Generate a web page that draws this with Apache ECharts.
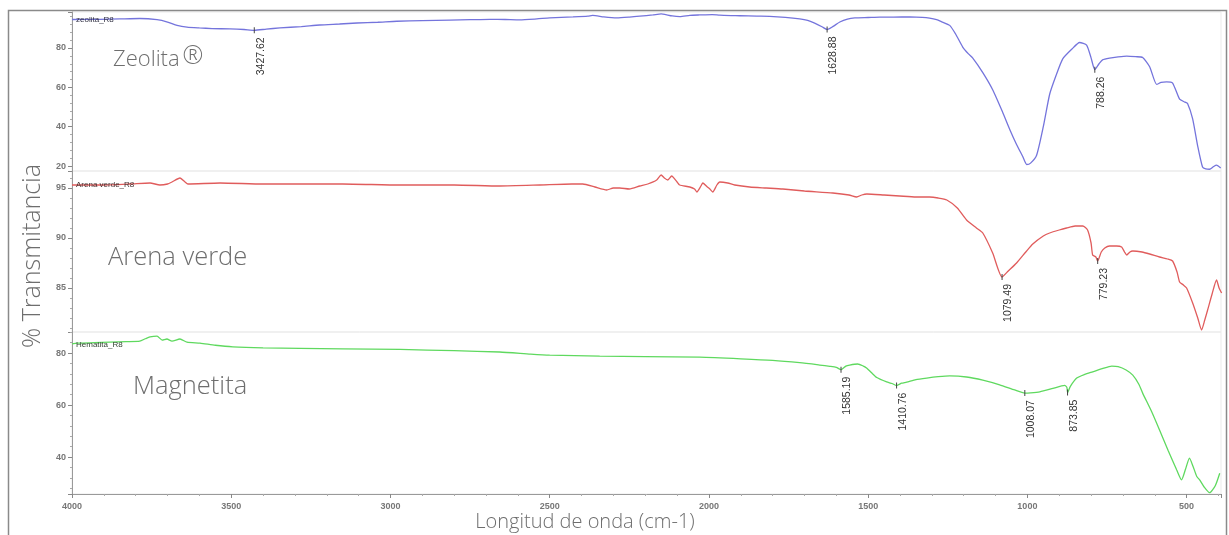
<!DOCTYPE html>
<html><head><meta charset="utf-8">
<script src="https://cdn.jsdelivr.net/npm/echarts@6/dist/echarts.min.js"></script>
<style>html,body{margin:0;padding:0;background:#fff}#c{width:1229px;height:535px}</style>
</head><body><div id="c"></div>
<script>
// ---- data (wavenumber cm-1, % transmittance) ----
const wnZeolita = [4000,3912,3850,3787,3733,3700,3670,3639,3600,3560,3504,3460,3427.62,3390,3347,3280,3222,3160,3105,3040,2980,2900,2813,2750,2688,2640,2594,2540,2500,2427,2380,2365,2330,2289,2250,2217,2176,2150,2139,2115,2091,2060,2029,1990,1966,1930,1903,1850,1809,1760,1715,1690,1668,1645,1628.88,1610,1589,1565,1542,1500,1464,1420,1369,1330,1307,1285,1269,1244,1225,1203,1185,1172,1140,1109,1078,1055,1034,1015,1002,990,971,950,930,910,889,860,836,814,800,788.26,775,764,742,715,688,660,638,616,594,580,563,544,522,505,497,481,465,450,440,428,415,406,393];
const tZeolita = [94.5,94.6,94.8,95.0,94.4,93.2,91.5,90.6,90.2,89.9,89.7,89.4,89.0,89.6,90.2,90.9,91.7,92.2,92.7,93.1,93.6,93.9,94.2,94.4,94.6,94.5,94.3,94.8,95.3,95.8,96.2,96.6,95.8,95.3,95.7,96.2,96.8,97.3,97.1,96.3,96.0,96.6,96.8,97.0,96.7,96.5,96.4,96.2,96.1,95.6,94.8,94.0,92.6,90.8,89.4,91.0,93.2,94.7,95.3,95.5,95.7,95.7,95.8,95.6,95.2,94.4,93.3,91.5,87.0,80.5,77.0,75.0,67.5,58.8,47.5,38.5,31.0,25.0,20.8,21.5,25.5,40.0,56.5,66.0,74.5,79.5,82.8,81.5,75.0,69.0,72.0,74.0,74.9,75.5,75.9,75.6,75.2,70.5,61.5,62.5,62.8,62.2,54.0,52.5,51.8,44.0,30.0,19.5,18.6,18.4,19.8,20.5,19.0];

const wnArena = [4000,3912,3818,3755,3724,3700,3686,3661,3645,3636,3535,3400,3284,3150,2970,2800,2657,2531,2430,2396,2358,2321,2300,2280,2250,2217,2192,2164,2150,2140,2129,2117,2100,2092,2060,2045,2038,2025,2019,2005,1997,1988,1975,1966,1941,1919,1872,1820,1768,1700,1611,1560,1536,1520,1504,1450,1401,1350,1307,1280,1253,1220,1191,1160,1140,1109,1079.49,1060,1034,1005,983,950,930,900,877,850,826,811,800,795,785,779.23,768,757,742,720,704,695,688,678,669,640,616,585,560,544,530,522,510,500,481,465,453,443,434,420,406,398,390];
const tArena = [95.3,95.3,95.4,95.5,95.3,95.4,95.6,96.0,95.6,95.4,95.5,95.4,95.4,95.4,95.3,95.3,95.2,95.3,95.4,95.4,95.1,94.8,95.0,95.0,94.9,95.2,95.4,95.8,96.3,96.0,95.8,96.2,95.6,95.3,95.1,94.9,94.6,95.2,95.5,95.1,94.9,94.6,95.3,95.6,95.5,95.3,95.1,95.0,94.9,94.7,94.5,94.3,94.1,94.3,94.4,94.3,94.2,94.1,94.1,94.0,93.8,93.0,91.8,91.0,90.5,88.5,86.1,86.7,87.5,88.6,89.4,90.2,90.5,90.8,91.0,91.2,91.2,90.8,89.5,88.3,88.1,87.7,88.6,89.0,89.2,89.2,89.1,88.6,88.3,88.6,88.7,88.6,88.4,88.1,87.9,87.7,86.6,85.6,85.3,85.0,83.5,82.0,80.8,81.8,82.8,84.4,85.8,85.0,84.5];

const wnMagnetita = [4000,3984,3930,3881,3830,3787,3770,3755,3733,3717,3702,3686,3661,3639,3598,3550,3495,3400,3284,3150,2970,2800,2657,2560,2500,2343,2200,2029,1900,1800,1715,1652,1620,1600,1585.19,1570,1558,1533,1515,1504,1490,1473,1442,1425,1410.76,1395,1379,1350,1316,1280,1244,1191,1140,1087,1040,1008.07,990,961,920,883,876,873.85,865,845,820,795,765,735,715,690,669,650,638,610,585,558,531,516,503,491,480,468,459,445,428,410,396];
const tMagnetita = [83.5,83.8,84.0,84.2,84.4,84.6,85.5,86.2,86.5,85.0,85.4,84.6,85.4,84.2,83.8,83.0,82.4,82.0,81.8,81.6,81.4,80.9,80.4,79.6,79.2,78.8,78.6,78.4,77.8,77.2,76.3,75.4,74.9,74.5,73.6,75.0,75.4,75.8,75.0,74.2,72.5,70.6,68.9,68.3,67.5,68.4,68.8,69.8,70.4,70.9,71.2,70.8,69.6,67.8,65.8,64.6,64.7,65.1,66.4,67.6,66.8,64.8,67.2,70.4,71.8,72.8,74.0,75.0,74.8,73.5,71.5,68.0,64.6,57.5,50.4,42.5,35.0,31.2,35.5,39.6,36.5,32.5,31.2,28.5,26.3,29.0,33.8];

const peaksZeolita = [3427.62, 1628.88, 788.26];
const peaksArena = [1079.49, 779.23];
const peaksMagnetita = [1585.19, 1410.76, 1008.07, 873.85];

const seriesNames = ['zeolita_R8', 'Arena verde_R8', 'Hematita_R8'];
const panelTitles = ['Zeolita', 'Arena verde', 'Magnetita'];

// ---- helpers ----
function pairs(xs, ys) { return xs.map((x, i) => [x, ys[i]]); }
function interp(xs, ys, v) {
  for (let i = 0; i < xs.length - 1; i++) {
    const a = xs[i], b = xs[i + 1];
    if ((v <= a && v >= b) || (v >= a && v <= b)) {
      const t = (v - a) / (b - a || 1);
      return ys[i] + t * (ys[i + 1] - ys[i]);
    }
  }
  return ys[ys.length - 1];
}
function marks(xs, ys, peaks) {
  return {
    symbol: 'rect', symbolSize: [1, 6],
    itemStyle: { color: '#444' },
    label: {
      show: true, position: [7, 10], rotate: 90, align: 'right', verticalAlign: 'middle',
      formatter: p => p.name, color: '#333', fontSize: 10.5, fontFamily: 'Liberation Sans'
    },
    data: peaks.map(p => ({ name: p.toFixed(2), coord: [p, interp(xs, ys, p)] }))
  };
}

const XMIN = 392, XMAX = 4000;
const grids = [
  { left: 72, right: 8, top: 12, height: 159 },
  { left: 72, right: 8, top: 171, height: 161 },
  { left: 72, right: 8, top: 332, height: 162 }
];
const yRanges = [[17.5, 98.3, 20], [80.6, 96.7, 5], [25.8, 88.1, 20]];
const colors = ['#7474dc', '#e05c5c', '#5fd95f'];

const axisGray = '#9a9a9a';
const option = {
  backgroundColor: '#fff',
  animation: false,
  grid: grids.map(g => Object.assign({ show: true, borderColor: '#ebebeb', borderWidth: 1 }, g)),
  xAxis: grids.map((g, i) => ({
    type: 'value', gridIndex: i, inverse: true, min: XMIN, max: XMAX,
    minInterval: 500, maxInterval: 500, splitNumber: 7,
    show: i === 2,
    axisLine: { show: true, lineStyle: { color: axisGray, width: 1 } },
    axisTick: { show: true, length: 4, lineStyle: { color: '#888' } },
    minorTick: { show: true, splitNumber: 5, length: 2, lineStyle: { color: '#aaa' } },
    splitLine: { show: false },
    axisLabel: {
      showMinLabel: false, showMaxLabel: true, margin: 8, color: '#777', fontSize: 9,
      fontFamily: 'Liberation Sans', fontWeight: 'bold', formatter: v => String(v)
    }
  })),
  yAxis: grids.map((g, i) => ({
    type: 'value', gridIndex: i, min: yRanges[i][0], max: yRanges[i][1],
    minInterval: yRanges[i][2], maxInterval: yRanges[i][2], splitNumber: 4,
    axisLine: { show: true, lineStyle: { color: axisGray, width: 1 } },
    axisTick: { show: true, length: 4, lineStyle: { color: '#888' } },
    minorTick: { show: true, splitNumber: 5, length: 2, lineStyle: { color: '#aaa' } },
    splitLine: { show: false },
    axisLabel: {
      showMinLabel: false, showMaxLabel: false, margin: 6, color: '#777', fontSize: 9,
      fontFamily: 'Liberation Sans', fontWeight: 'bold', formatter: v => String(v)
    }
  })),
  series: [
    [wnZeolita, tZeolita, peaksZeolita],
    [wnArena, tArena, peaksArena],
    [wnMagnetita, tMagnetita, peaksMagnetita]
  ].map((s, i) => ({
    type: 'line', name: seriesNames[i], xAxisIndex: i, yAxisIndex: i,
    data: pairs(s[0], s[1]), symbol: 'none', smooth: 0.2,
    lineStyle: { color: colors[i], width: 1.3 },
    markPoint: marks(s[0], s[1], s[2])
  })),
  graphic: [
    { type: 'rect', shape: { x: 8.5, y: 10.5, width: 1218, height: 540 }, style: { fill: 'none', stroke: '#8a8a8a', lineWidth: 1.5 }, z: 100 },
    { type: 'text', x: 76, y: 20, style: { text: seriesNames[0], fill: '#334', font: '8px "Liberation Sans"', verticalAlign: 'middle' }, z: 90 },
    { type: 'text', x: 76, y: 185, style: { text: seriesNames[1], fill: '#433', font: '8px "Liberation Sans"', verticalAlign: 'middle' }, z: 90 },
    { type: 'text', x: 76, y: 345, style: { text: seriesNames[2], fill: '#343', font: '8px "Liberation Sans"', verticalAlign: 'middle' }, z: 90 },
    { type: 'text', x: 113, y: 60, style: { text: panelTitles[0] + '{r|\u00AE}', fill: '#6e6e6e', font: '300 22px "Open Sans"', verticalAlign: 'middle',
        rich: { r: { fontSize: 25, fontWeight: 300, fontFamily: 'Open Sans', fill: '#6e6e6e', padding: [0, 0, 6, 3] } } }, z: 90 },
    { type: 'text', x: 108, y: 258, style: { text: panelTitles[1], fill: '#6e6e6e', font: '300 25.5px "Open Sans"', verticalAlign: 'middle' }, z: 90 },
    { type: 'text', x: 133, y: 387, style: { text: panelTitles[2], fill: '#6e6e6e', font: '300 25.5px "Open Sans"', verticalAlign: 'middle' }, z: 90 },
    { type: 'text', x: 33, y: 256, rotation: Math.PI / 2, style: { text: '% Transmitancia', fill: '#6e6e6e', font: '300 25px "Open Sans"', align: 'center', verticalAlign: 'middle' }, z: 90 },
    { type: 'text', x: 585, y: 522, style: { text: 'Longitud de onda (cm-1)', fill: '#6e6e6e', font: '300 20px "Open Sans"', align: 'center', verticalAlign: 'middle' }, z: 90 }
  ]
};
const chart = echarts.init(document.getElementById('c'), null, { renderer: 'canvas' });
chart.setOption(option);
</script></body></html>
